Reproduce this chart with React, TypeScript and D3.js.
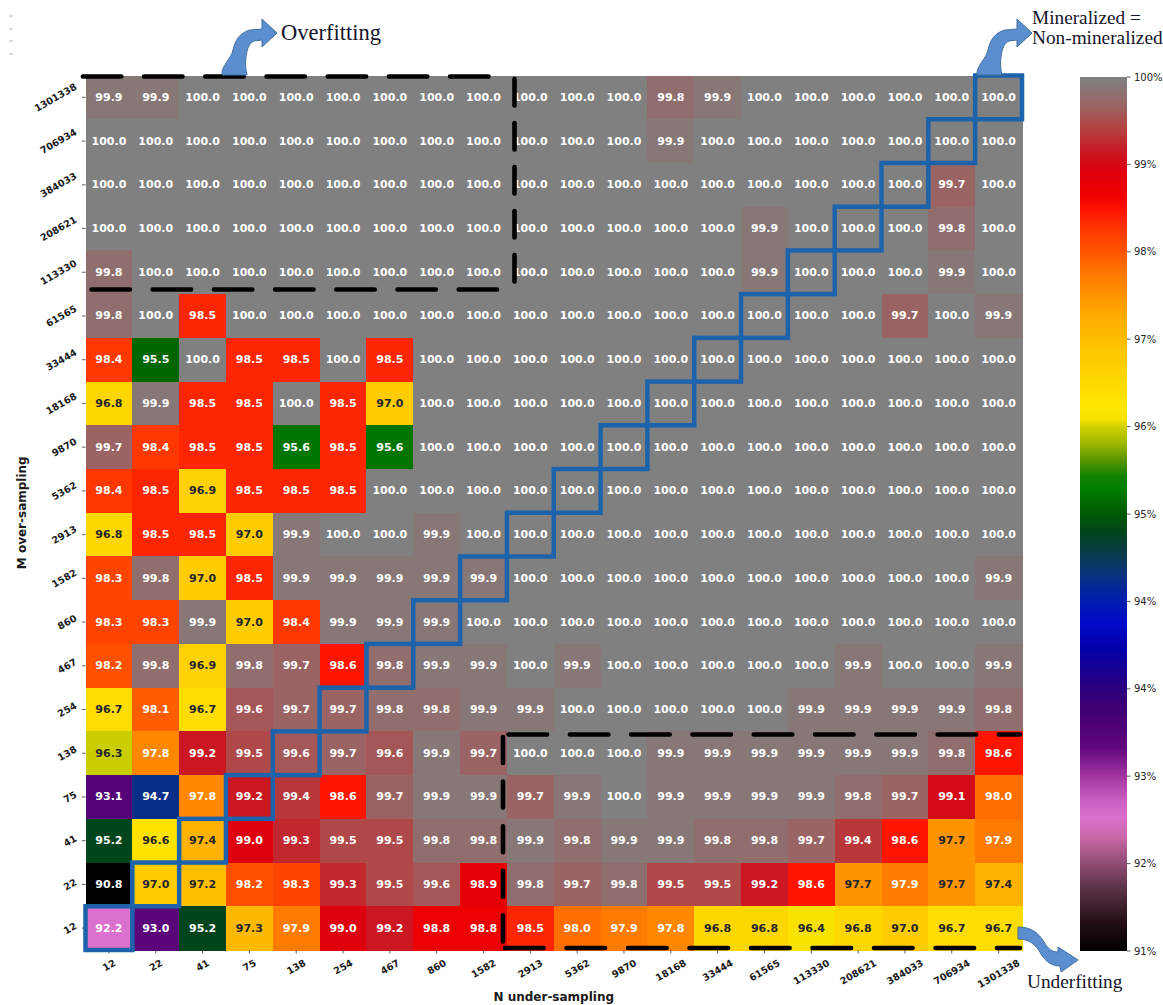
import React from 'react';
import * as d3 from 'd3';

// M over-sampling (rows, top to bottom) and N under-sampling (columns, left to right)
const mLabels = ['1301338', '706934', '384033', '208621', '113330', '61565', '33444', '18168', '9870', '5362', '2913', '1582', '860', '467', '254', '138', '75', '41', '22', '12'];
const nLabels = ['12', '22', '41', '75', '138', '254', '467', '860', '1582', '2913', '5362', '9870', '18168', '33444', '61565', '113330', '208621', '384033', '706934', '1301338'];

// Accuracy (%) per M row, one value per N column
const m1301338 = [99.9, 99.9, 100, 100, 100, 100, 100, 100, 100, 100, 100, 100, 99.8, 99.9, 100, 100, 100, 100, 100, 100];
const m706934 = [100, 100, 100, 100, 100, 100, 100, 100, 100, 100, 100, 100, 99.9, 100, 100, 100, 100, 100, 100, 100];
const m384033 = [100, 100, 100, 100, 100, 100, 100, 100, 100, 100, 100, 100, 100, 100, 100, 100, 100, 100, 99.7, 100];
const m208621 = [100, 100, 100, 100, 100, 100, 100, 100, 100, 100, 100, 100, 100, 100, 99.9, 100, 100, 100, 99.8, 100];
const m113330 = [99.8, 100, 100, 100, 100, 100, 100, 100, 100, 100, 100, 100, 100, 100, 99.9, 100, 100, 100, 99.9, 100];
const m61565 = [99.8, 100, 98.5, 100, 100, 100, 100, 100, 100, 100, 100, 100, 100, 100, 100, 100, 100, 99.7, 100, 99.9];
const m33444 = [98.4, 95.5, 100, 98.5, 98.5, 100, 98.5, 100, 100, 100, 100, 100, 100, 100, 100, 100, 100, 100, 100, 100];
const m18168 = [96.8, 99.9, 98.5, 98.5, 100, 98.5, 97.0, 100, 100, 100, 100, 100, 100, 100, 100, 100, 100, 100, 100, 100];
const m9870 = [99.7, 98.4, 98.5, 98.5, 95.6, 98.5, 95.6, 100, 100, 100, 100, 100, 100, 100, 100, 100, 100, 100, 100, 100];
const m5362 = [98.4, 98.5, 96.9, 98.5, 98.5, 98.5, 100, 100, 100, 100, 100, 100, 100, 100, 100, 100, 100, 100, 100, 100];
const m2913 = [96.8, 98.5, 98.5, 97.0, 99.9, 100, 100, 99.9, 100, 100, 100, 100, 100, 100, 100, 100, 100, 100, 100, 100];
const m1582 = [98.3, 99.8, 97.0, 98.5, 99.9, 99.9, 99.9, 99.9, 99.9, 100, 100, 100, 100, 100, 100, 100, 100, 100, 100, 99.9];
const m860 = [98.3, 98.3, 99.9, 97.0, 98.4, 99.9, 99.9, 99.9, 100, 100, 100, 100, 100, 100, 100, 100, 100, 100, 100, 100];
const m467 = [98.2, 99.8, 96.9, 99.8, 99.7, 98.6, 99.8, 99.9, 99.9, 100, 99.9, 100, 100, 100, 100, 100, 99.9, 100, 100, 99.9];
const m254 = [96.7, 98.1, 96.7, 99.6, 99.7, 99.7, 99.8, 99.8, 99.9, 99.9, 100, 100, 100, 100, 100, 99.9, 99.9, 99.9, 99.9, 99.8];
const m138 = [96.3, 97.8, 99.2, 99.5, 99.6, 99.7, 99.6, 99.9, 99.7, 100, 100, 100, 99.9, 99.9, 99.9, 99.9, 99.9, 99.9, 99.8, 98.6];
const m75 = [93.1, 94.7, 97.8, 99.2, 99.4, 98.6, 99.7, 99.9, 99.9, 99.7, 99.9, 100, 99.9, 99.9, 99.9, 99.9, 99.8, 99.7, 99.1, 98.0];
const m41 = [95.2, 96.6, 97.4, 99.0, 99.3, 99.5, 99.5, 99.8, 99.8, 99.9, 99.8, 99.9, 99.9, 99.8, 99.8, 99.7, 99.4, 98.6, 97.7, 97.9];
const m22 = [90.8, 97.0, 97.2, 98.2, 98.3, 99.3, 99.5, 99.6, 98.9, 99.8, 99.7, 99.8, 99.5, 99.5, 99.2, 98.6, 97.7, 97.9, 97.7, 97.4];
const m12 = [92.2, 93.0, 95.2, 97.3, 97.9, 99.0, 99.2, 98.8, 98.8, 98.5, 98.0, 97.9, 97.8, 96.8, 96.8, 96.4, 96.8, 97.0, 96.7, 96.7];

const matrix = [m1301338, m706934, m384033, m208621, m113330, m61565, m33444, m18168, m9870, m5362, m2913, m1582, m860, m467, m254, m138, m75, m41, m22, m12];

// Colour bar range and tick values
const vMin = 90.8;
const vMax = 100;
const colorbarTicks = [90.8, 91.72, 92.64, 93.56, 94.48, 95.4, 96.32, 97.24, 98.16, 99.08, 100];

// Colormap: value stops and colours
const cmapStops = [90.8, 91.1, 91.45, 91.75, 92.0, 92.2, 92.4, 92.65, 92.95, 93.2, 93.45, 93.7, 94.0, 94.25, 94.5, 94.75, 95.0, 95.22, 95.45, 95.65, 95.8, 95.97, 96.15, 96.3, 96.4, 96.55, 96.8, 97.1, 97.4, 97.7, 97.95, 98.15, 98.4, 98.57, 98.75, 99.0, 99.22, 99.45, 99.7, 99.85, 100];
const cmapColors = ['rgb(0,0,0)', 'rgb(35,15,25)', 'rgb(90,50,70)', 'rgb(150,80,120)', 'rgb(200,105,170)', 'rgb(220,112,206)', 'rgb(200,92,192)', 'rgb(160,52,160)', 'rgb(95,6,125)', 'rgb(75,0,115)', 'rgb(55,0,120)', 'rgb(30,0,140)', 'rgb(0,0,170)', 'rgb(0,10,200)', 'rgb(0,30,170)', 'rgb(10,50,130)', 'rgb(10,60,70)', 'rgb(0,70,25)', 'rgb(0,95,0)', 'rgb(0,125,0)', 'rgb(20,130,0)', 'rgb(90,150,0)', 'rgb(160,185,0)', 'rgb(202,205,0)', 'rgb(248,226,0)', 'rgb(255,230,0)', 'rgb(255,215,0)', 'rgb(255,198,0)', 'rgb(255,178,0)', 'rgb(255,148,0)', 'rgb(255,118,0)', 'rgb(255,85,0)', 'rgb(255,55,0)', 'rgb(255,25,0)', 'rgb(240,0,0)', 'rgb(222,0,12)', 'rgb(200,25,35)', 'rgb(180,65,65)', 'rgb(155,100,100)', 'rgb(140,115,115)', 'rgb(128,128,128)'];

const W = 1163;
const H = 1005;
const plot = { left: 85.5, right: 1022, top: 75.5, bottom: 950 };
const cbar = { left: 1080, right: 1127, top: 77, bottom: 951 };
const sans = 'DejaVu Sans, Verdana, sans-serif';
const serif = 'Liberation Serif, Times New Roman, serif';

const color = d3.scaleLinear<string>().domain(cmapStops).range(cmapColors).interpolate(d3.interpolateRgb).clamp(true);
const x = d3.scaleBand<string>().domain(nLabels).range([plot.left, plot.right]);
const y = d3.scaleBand<string>().domain(mLabels).range([plot.top, plot.bottom]);
const cy = d3.scaleLinear().domain([vMin, vMax]).range([cbar.bottom, cbar.top]);
const fmtCell = d3.format('.1f');
const fmtTick = (v: number) => `${Math.round(v)}%`;

// relative luminance decides dark or light annotation text
function luminance(c: string) {
  const rgb = d3.rgb(c);
  const lin = (u: number) => {
    const s = u / 255;
    return s <= 0.03928 ? s / 12.92 : Math.pow((s + 0.055) / 1.055, 2.4);
  };
  return 0.2126 * lin(rgb.r) + 0.7152 * lin(rgb.g) + 0.0722 * lin(rgb.b);
}

const tickFont = 9.6;
const digitW = 0.696 * tickFont;
const sin30 = 0.5;
const cos30 = Math.sqrt(3) / 2;
const lineH = 1.16 * tickFont;

const arrowFill = '#5b8ecf';
const arrowEdge = '#41709f';
const upArrow = 'M 222 75 C 221 66, 231 59, 233 50 C 235 41, 239 33, 250 30 L 262 29 L 262 19 L 277 33 L 262 47 L 262 40 L 254 41 C 249 43, 247 49, 246 57 C 245 65, 246 70, 247 75 Z';
const downArrow = 'M 1018 927 C 1030 927, 1038 932, 1044 942 C 1048 949, 1052 952, 1058 952 L 1058 947 L 1078 960 L 1061 972 L 1060 966 C 1052 966, 1046 962, 1041 954 C 1036 945, 1030 939, 1018 939 Z';

const dash = { stroke: '#000', strokeWidth: 4.6, strokeLinecap: 'round' as const, fill: 'none' };

export default function App() {
  const rects: React.ReactNode[] = [];
  const labels: React.ReactNode[] = [];
  matrix.forEach((rowVals, ri) => {
    const m = mLabels[ri];
    rowVals.forEach((v, ci) => {
      const n = nLabels[ci];
      const c = color(v);
      const txt = luminance(c) > 0.408 ? '#262626' : '#ffffff';
      rects.push(
        <rect key={`r-${m}-${n}`} x={x(n)} y={y(m)} width={x.bandwidth() + 0.6} height={y.bandwidth() + 0.6} fill={c} shapeRendering="crispEdges" />
      );
      labels.push(
        <text key={`t-${m}-${n}`} x={(x(n) as number) + x.bandwidth() / 2} y={(y(m) as number) + y.bandwidth() / 2} textAnchor="middle" dominantBaseline="central" fontFamily={sans} fontWeight="bold" fontSize={11} fill={txt}>
          {fmtCell(v)}
        </text>
      );
    });
  });

  // blue outline on the diagonal where M equals N
  const diag = nLabels.map((n) => (
    <rect key={`d-${n}`} x={x(n)} y={y(n)} width={x.bandwidth()} height={y.bandwidth()} fill="none" stroke="#1c63ac" strokeWidth={4.5} />
  ));

  const gradStops = cmapStops.map((v, i) => (
    <stop key={i} offset={`${((v - vMin) / (vMax - vMin)) * 100}%`} stopColor={cmapColors[i]} />
  ));

  return (
    <svg width={W} height={H} style={{ position: 'absolute', left: 0, top: 0, background: '#fff' }}>
      <defs>
        <linearGradient id="cbarGrad" x1="0" y1="1" x2="0" y2="0">
          {gradStops}
        </linearGradient>
      </defs>
      <rect width={W} height={H} fill="#fff" />

      {/* small marks in the upper left corner */}
      {[16, 29, 41, 54].map((yy) => (
        <line key={yy} x1={9} x2={13} y1={yy} y2={yy} stroke="#b8b8b8" strokeWidth={1} />
      ))}

      <g>{rects}</g>
      <g>{labels}</g>

      {/* y axis ticks and labels */}
      {mLabels.map((m) => {
        const yc = (y(m) as number) + y.bandwidth() / 2;
        const L = m.length * digitW;
        const bw = L * cos30 + lineH * sin30;
        const cx = plot.left - 7 - bw / 2;
        return (
          <g key={`yt-${m}`}>
            <line x1={plot.left - 3.5} x2={plot.left} y1={yc} y2={yc} stroke="#333" strokeWidth={0.8} />
            <text transform={`translate(${cx},${yc}) rotate(-30)`} textAnchor="middle" dominantBaseline="central" fontFamily={sans} fontWeight="bold" fontSize={tickFont} fill="#1a1a1a">{m}</text>
          </g>
        );
      })}

      {/* x axis ticks and labels */}
      {nLabels.map((n) => {
        const xc = (x(n) as number) + x.bandwidth() / 2;
        const L = n.length * digitW;
        const bh = L * sin30 + lineH * cos30;
        const cyy = plot.bottom + 7 + bh / 2;
        return (
          <g key={`xt-${n}`}>
            <line x1={xc} x2={xc} y1={plot.bottom} y2={plot.bottom + 3.5} stroke="#333" strokeWidth={0.8} />
            <text transform={`translate(${xc},${cyy}) rotate(-30)`} textAnchor="middle" dominantBaseline="central" fontFamily={sans} fontWeight="bold" fontSize={tickFont} fill="#1a1a1a">{n}</text>
          </g>
        );
      })}

      <text transform={`translate(26,${(plot.top + plot.bottom) / 2}) rotate(-90)`} textAnchor="middle" fontFamily={sans} fontWeight="bold" fontSize={12} fill="#1a1a1a">M over-sampling</text>
      <text x={(plot.left + plot.right) / 2} y={1001} textAnchor="middle" fontFamily={sans} fontWeight="bold" fontSize={12} fill="#1a1a1a">N under-sampling</text>

      {/* overfitting region */}
      <line x1={82.9} y1={76.5} x2={492} y2={76.5} {...dash} strokeDasharray="38.4 22.8" />
      <line x1={91.5} y1={289.5} x2={501} y2={289.5} {...dash} strokeDasharray="38.4 22.8" />
      <line x1={514.5} y1={79} x2={514.5} y2={285} {...dash} strokeDasharray="26.5 17.5" />

      {/* underfitting region */}
      <line x1={508.5} y1={734.5} x2={1020} y2={734.5} {...dash} strokeDasharray="38.6 22.7" />
      <line x1={503} y1={737} x2={503} y2={942} {...dash} strokeDasharray="26 18.6" />
      <line x1={505} y1={948} x2={1020} y2={948} {...dash} strokeDasharray="38.6 22.9" />

      {diag}

      {/* colour bar */}
      <rect x={cbar.left} y={cbar.top} width={cbar.right - cbar.left} height={cbar.bottom - cbar.top} fill="url(#cbarGrad)" />
      {colorbarTicks.map((t, i) => (
        <g key={`ct-${i}`}>
          <line x1={cbar.right} x2={cbar.right + 3.5} y1={cy(t)} y2={cy(t)} stroke="#333" strokeWidth={0.8} />
          <text x={cbar.right + 7} y={cy(t)} dominantBaseline="central" fontFamily={sans} fontSize={10} fill="#262626">{fmtTick(t)}</text>
        </g>
      ))}

      {/* annotations */}
      <path d={upArrow} fill={arrowFill} stroke={arrowEdge} strokeWidth={1} />
      <path d={upArrow} transform="translate(755,0)" fill={arrowFill} stroke={arrowEdge} strokeWidth={1} />
      <path d={downArrow} fill={arrowFill} stroke={arrowEdge} strokeWidth={1} />
      <text x={281} y={40} fontFamily={serif} fontSize={22.5} fill="#14142a">Overfitting</text>
      <text x={1032} y={24} fontFamily={serif} fontSize={19.3} fill="#14142a">Mineralized =</text>
      <text x={1032} y={44} fontFamily={serif} fontSize={19.3} fill="#14142a">Non-mineralized</text>
      <text x={1027} y={988} fontFamily={serif} fontSize={19.3} fill="#14142a">Underfitting</text>
    </svg>
  );
}
